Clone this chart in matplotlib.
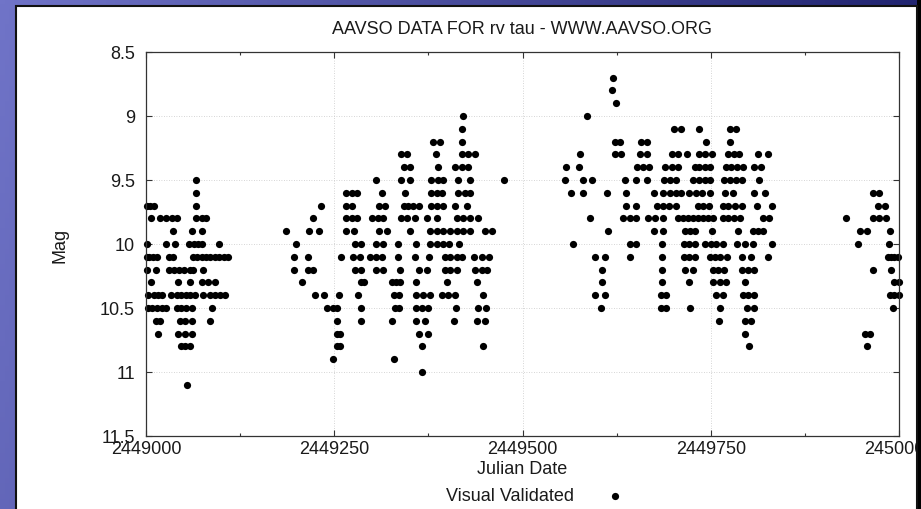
import numpy as np
import matplotlib
matplotlib.use("Agg")
import matplotlib.pyplot as plt
from matplotlib.patches import Rectangle
from matplotlib.lines import Line2D
from matplotlib.ticker import MultipleLocator, FuncFormatter

plt.rcParams['font.family'] = ['Liberation Sans', 'DejaVu Sans']

JD0 = 2449000

# Observations: (magnitude, [JD - 2449000 ...]) per season
season1 = [
    (9.5, [67]),
    (9.6, [66]),
    (9.7, [1, 5, 10, 66]),
    (9.8, [6, 18, 27, 34, 41, 66, 74, 80]),
    (9.9, [36, 61, 74]),
    (10.0, [1, 27, 38, 57, 64, 69, 75, 97]),
    (10.1, [1, 4, 9, 14, 30, 36, 63, 68, 74, 80, 85, 92, 97, 104, 109]),
    (10.2, [1, 13, 31, 37, 44, 50, 58, 63, 76]),
    (10.3, [7, 43, 58, 75, 83, 92]),
    (10.4, [3, 10, 16, 21, 33, 41, 47, 53, 59, 65, 76, 85, 92, 98, 105]),
    (10.5, [2, 8, 14, 21, 27, 41, 46, 53, 61, 87]),
    (10.6, [13, 19, 45, 52, 61, 85]),
    (10.7, [16, 43, 52, 61]),
    (10.8, [46, 52, 58]),
    (11.1, [54]),
]

season2 = [
    (9.0, [421]),
    (9.1, [420]),
    (9.2, [381, 390, 420]),
    (9.3, [339, 346, 385, 419, 428, 437]),
    (9.4, [342, 350, 388, 411, 419, 428]),
    (9.5, [306, 339, 350, 379, 388, 395, 415, 430, 476]),
    (9.6, [266, 273, 280, 314, 344, 379, 386, 393, 415, 423, 430]),
    (9.7, [233, 266, 273, 310, 317, 342, 348, 355, 362, 379, 386, 395, 411, 426]),
    (9.8, [222, 266, 273, 280, 300, 308, 315, 339, 346, 357, 373, 386, 413, 421, 430, 441]),
    (9.9, [186, 217, 230, 266, 276, 310, 320, 350, 377, 386, 395, 404, 413, 421, 430, 450, 460]),
    (10.0, [199, 278, 286, 305, 315, 335, 358, 377, 386, 395, 403, 416]),
    (10.1, [196, 215, 259, 275, 284, 297, 306, 313, 335, 357, 376, 397, 404, 413, 419, 435, 446, 455]),
    (10.2, [197, 215, 222, 278, 286, 306, 315, 337, 362, 373, 397, 404, 413, 437, 446, 453]),
    (10.3, [207, 286, 290, 327, 332, 337, 359, 400, 439]),
    (10.4, [225, 236, 256, 281, 330, 336, 358, 368, 377, 393, 401, 410, 448]),
    (10.5, [241, 248, 254, 286, 331, 336, 359, 366, 375, 412, 441, 452]),
    (10.6, [254, 286, 327, 359, 371, 409, 440, 450]),
    (10.7, [254, 258, 362, 374]),
    (10.8, [254, 258, 366, 448]),
    (10.9, [249, 330]),
    (11.0, [367]),
]

season3 = [
    (8.7, [620]),
    (8.8, [619]),
    (8.9, [624]),
    (9.0, [585]),
    (9.1, [701, 710, 735, 776, 783]),
    (9.2, [623, 629, 657, 666, 744, 776]),
    (9.3, [576, 623, 631, 656, 665, 698, 707, 718, 735, 742, 751, 773, 781, 788, 813, 826]),
    (9.4, [558, 575, 652, 660, 668, 689, 698, 707, 729, 735, 742, 749, 770, 777, 785, 793, 808, 817]),
    (9.5, [556, 580, 592, 636, 651, 665, 688, 696, 704, 727, 735, 742, 749, 767, 775, 783, 791, 814]),
    (9.6, [564, 581, 612, 638, 674, 686, 696, 704, 711, 721, 730, 739, 749, 769, 780, 808, 822]),
    (9.7, [638, 651, 678, 687, 695, 704, 733, 740, 748, 766, 773, 782, 791, 811, 831]),
    (9.8, [589, 634, 643, 651, 667, 676, 687, 707, 713, 720, 727, 733, 740, 746, 753, 766, 773, 781, 789, 820, 828]),
    (9.9, [614, 674, 687, 716, 722, 729, 751, 786, 806, 813, 820]),
    (10.0, [567, 643, 651, 685, 714, 721, 729, 743, 750, 757, 766, 785, 795, 806, 831]),
    (10.1, [596, 609, 643, 685, 714, 721, 729, 749, 755, 762, 771, 791, 804, 826]),
    (10.2, [605, 685, 716, 726, 753, 760, 767, 792, 800, 808]),
    (10.3, [605, 685, 721, 753, 762, 770, 796]),
    (10.4, [596, 609, 684, 691, 757, 766, 793, 800, 807]),
    (10.5, [604, 684, 691, 722, 762, 798, 807]),
    (10.6, [761, 796, 804]),
    (10.7, [796]),
    (10.8, [801]),
]

season4 = [
    (9.6, [966, 974]),
    (9.7, [972, 982]),
    (9.8, [930, 966, 974, 983]),
    (9.9, [948, 957, 988]),
    (10.0, [946, 987]),
    (10.1, [985, 990, 994, 999]),
    (10.2, [966, 990]),
    (10.3, [994, 1000]),
    (10.4, [988, 994, 1000]),
    (10.5, [992]),
    (10.7, [955, 961]),
    (10.8, [958]),
]

x_ticks = [2449000, 2449250, 2449500, 2449750, 2450000]
y_ticks = [8.5, 9, 9.5, 10, 10.5, 11, 11.5]

jd, mag = [], []
for season in (season1, season2, season3, season4):
    for m, days in season:
        for d in days:
            jd.append(JD0 + d)
            mag.append(m)

W, H = 921, 510
FS = 13
TXT = '#1a1a1a'
fig = plt.figure(figsize=(W / 100, H / 100), dpi=100)

# background gradient frame
bg = fig.add_axes([0, 0, 1, 1], zorder=-10)
bg.set_xlim(0, W)
bg.set_ylim(H, 0)
bg.axis('off')
xx, yy = np.meshgrid(np.linspace(0, 1, 200), np.linspace(0, 1, 100))
t = np.clip(0.9 * xx + 0.15 * yy, 0, 1)
c0 = np.array([0x70, 0x74, 0xc8]) / 255
c1 = np.array([0x18, 0x1b, 0x66]) / 255
img = c0[None, None, :] * (1 - t[..., None]) + c1[None, None, :] * t[..., None]
bg.imshow(img, extent=[0, W, H, 0], aspect='auto', zorder=0)
bg.add_patch(Rectangle((16, 7), 902, H, facecolor='white', edgecolor='#111111', linewidth=1.5, zorder=2))

ax = fig.add_axes([146 / W, (H - 437) / H, (899 - 146) / W, (437 - 53) / H])
ax.plot(jd, mag, linestyle='none', marker='o', markersize=5.2, color='black',
        markeredgewidth=0, clip_on=False)
ax.set_xlim(2449000, 2450000)
ax.set_ylim(11.5, 8.5)
ax.set_xticks(x_ticks)
ax.xaxis.set_major_formatter(FuncFormatter(lambda v, p: '%d' % round(v)))
ax.xaxis.set_minor_locator(MultipleLocator(125))
ax.set_yticks(y_ticks)
ax.yaxis.set_major_formatter(FuncFormatter(lambda v, p: ('%g' % v)))
ax.tick_params(axis='both', which='major', direction='in', length=4, width=0.8,
               top=True, right=True, labelsize=FS, colors='#333333', labelcolor=TXT)
ax.tick_params(axis='y', which='major', pad=8)
ax.tick_params(axis='x', which='major', pad=3)
ax.tick_params(axis='x', which='minor', direction='in', length=2, width=0.8, top=True, colors='#333333')
ax.grid(True, which='major', linestyle=(0, (1, 2)), color='#c8c8c8', linewidth=0.6)
for s in ax.spines.values():
    s.set_color('#333333')
    s.set_linewidth(0.9)

fig.text(522 / W, 1 - 30 / H, 'AAVSO DATA FOR rv tau - WWW.AAVSO.ORG', ha='center', va='center',
         fontsize=FS, color=TXT)
fig.text(60 / W, 1 - 245 / H, 'Mag', rotation=90, ha='center', va='center', fontsize=FS, color=TXT)
fig.text(522 / W, 1 - 470 / H, 'Julian Date', ha='center', va='center', fontsize=FS, color=TXT)
fig.text(574 / W, 1 - 497 / H, 'Visual Validated', ha='right', va='center', fontsize=FS, color=TXT)
fig.lines.append(Line2D([615 / W], [1 - 497 / H], transform=fig.transFigure,
                        marker='o', markersize=5.2, color='black', markeredgewidth=0,
                        linestyle='none'))

# dark right edge drawn over everything (clips the last tick label like the reference)
over = fig.add_axes([0, 0, 1, 1], zorder=10)
over.set_xlim(0, W)
over.set_ylim(H, 0)
over.axis('off')
over.patch.set_alpha(0)
over.add_patch(Rectangle((917, 0), 4, H, facecolor='black', edgecolor='none'))
over.plot([917, 917], [7, H], color='#111111', linewidth=1.5)

fig.savefig('out.png', dpi=100)
